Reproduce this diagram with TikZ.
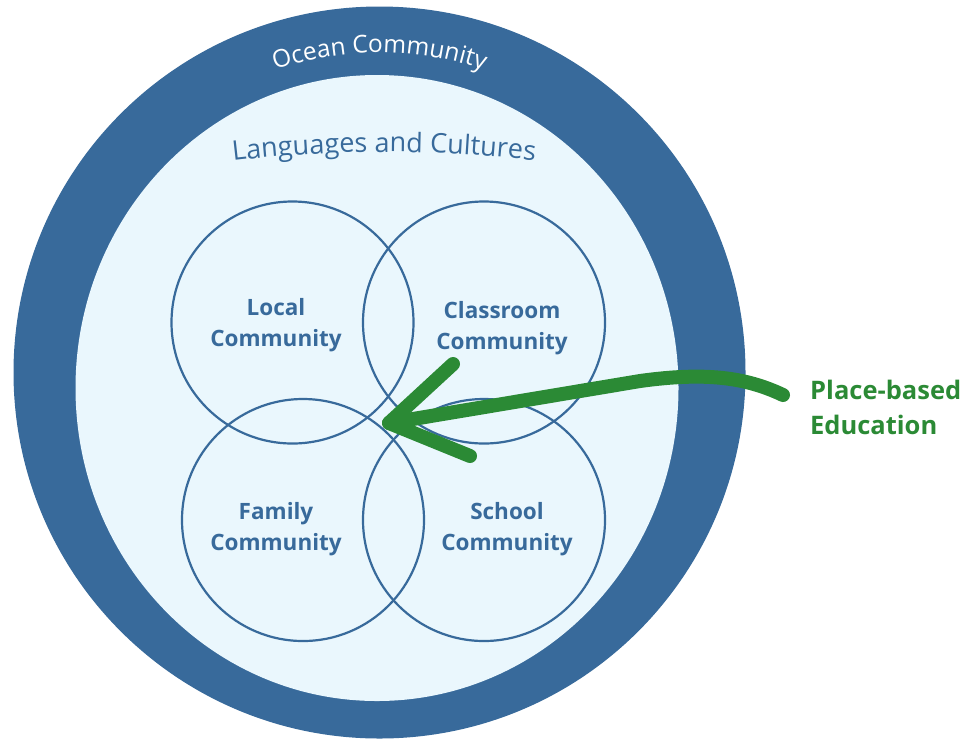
\documentclass[tikz,border=0pt]{standalone}
\usepackage{fontspec}
\setmainfont{Open Sans}
\usetikzlibrary{decorations.text}
\definecolor{oceanblue}{HTML}{386A9B}
\definecolor{lightfill}{HTML}{EAF7FD}
\definecolor{arrowgreen}{HTML}{2B8A35}
\tikzset{
  commcircle/.style={circle, draw=oceanblue, line width=2.2pt, minimum size=242pt, inner sep=0pt},
  commlabel/.style={align=center, text=oceanblue, inner sep=0pt, font=\bfseries\fontsize{22.5}{31}\selectfont},
  pbelabel/.style={align=left, text=arrowgreen, inner sep=0pt, anchor=west, font=\bfseries\fontsize{25.5}{35}\selectfont},
  greenstroke/.style={draw=arrowgreen, line width=14pt, line cap=round, line join=round}
}
\begin{document}
\begin{tikzpicture}[x=1pt,y=-1pt]
\useasboundingbox (0,0) rectangle (973,740);
% outer ring
\node[circle, fill=oceanblue, minimum size=732pt, inner sep=0pt] (ocean) at (379.5,372.5) {};
% inner light area
\fill[lightfill] (377,388) ellipse [x radius=301.5pt, y radius=313pt];
% curved titles
\path[decorate, decoration={text along path, text align=center, text color=white,
  text={|\fontsize{24.5}{30}\selectfont|Ocean Community}}]
  (379.5,372.5) ++(-125:320) arc[start angle=-125, end angle=-55, radius=320];
\path[decorate, decoration={text along path, text align=center, text color=oceanblue,
  text={|\fontsize{27}{32}\selectfont|Languages and Cultures}}]
  (384,1452) ++(-100:1300) arc[start angle=-100, end angle=-80, radius=1300];
% four community circles
\node[commcircle] (local) at (292.5,322.5) {};
\node[commcircle] (classroom) at (484,322.5) {};
\node[commcircle] (family) at (303,520) {};
\node[commcircle] (school) at (484,520) {};
% labels
\node[commlabel] (locallbl) at (276,325.5) {Local\\Community};
\node[commlabel] (classlbl) at (502,327.8) {Classroom\\Community};
\node[commlabel] (familylbl) at (276,529.5) {Family\\Community};
\node[commlabel] (schoollbl) at (507,529.5) {School\\Community};
\node[pbelabel] (pbe) at (810,407) {Place-based\\Education};
% green arrow
\coordinate (tail) at (783,395);
\coordinate (bend) at (640,381);
\coordinate (tip) at (389,423);
\coordinate (barbA) at (453,364);
\coordinate (barbB) at (470,456);
\draw[greenstroke] (tail) .. controls (745,377) and (705,372) .. (bend) -- (tip);
\draw[greenstroke] (barbA) -- (tip) -- (barbB);
\end{tikzpicture}
\end{document}
